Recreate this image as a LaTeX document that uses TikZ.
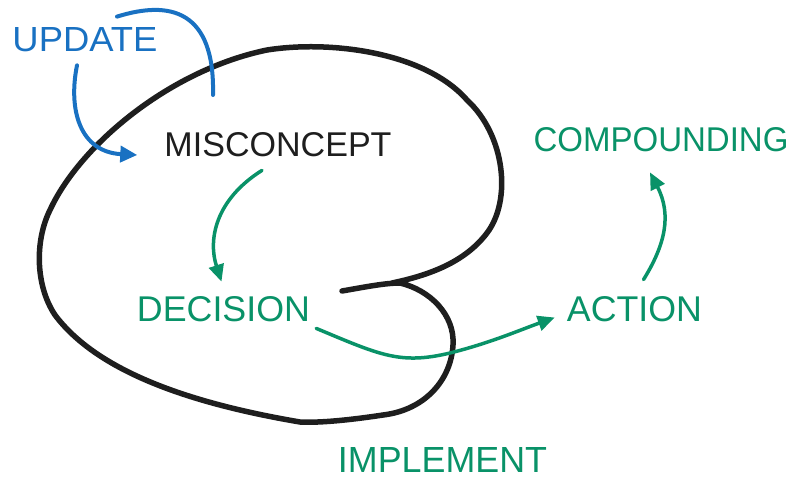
\documentclass[tikz,border=0pt]{standalone}
\usepackage{fontspec}
\setmainfont{Liberation Sans}
\usetikzlibrary{arrows.meta,calc}
\definecolor{inkblue}{HTML}{1971C2}
\definecolor{inkgreen}{HTML}{099268}
\definecolor{inkblack}{HTML}{1E1E1E}
\newcommand{\lbl}[3]{\resizebox{#1pt}{#2pt}{#3}}
\tikzset{
  lab/.style={inner sep=0pt, anchor=center},
  greenarrow/.style={draw=inkgreen, line width=3.5pt, line cap=round, -{Triangle[length=17pt,width=15pt]}},
  bluearrow/.style={draw=inkblue, line width=4pt, line cap=round, -{Triangle[length=17pt,width=16pt]}},
  blueline/.style={draw=inkblue, line width=4pt, line cap=round},
  blob/.style={draw=inkblack, line width=5.5pt, line cap=round, line join=round}
}
\begin{document}
\begin{tikzpicture}[x=1pt,y=-1pt]
\useasboundingbox (0,0) rectangle (800,491);
% blob
\draw[blob] (342,291) .. controls (365,287) and (385,283) .. (400,283)
  .. controls (430,290) and (455,315) .. (453,345)
  .. controls (451,380) and (425,410) .. (383,415)
  .. controls (350,420) and (320,423) .. (300,422)
  .. controls (200,405) and (100,375) .. (55,315)
  .. controls (35,285) and (35,240) .. (50,210)
  .. controls (80,145) and (170,70) .. (267,50)
  .. controls (330,40) and (425,52) .. (467,100)
  .. controls (505,135) and (512,200) .. (487,233)
  .. controls (465,262) and (430,275) .. (392,283);
% labels
\node[lab, text=inkblue] (upd) at (85,40) {\lbl{145}{24}{UPDATE}};
\node[lab, text=inkblack] (mis) at (278,145) {\lbl{227}{24}{MISCONCEPT}};
\node[lab, text=inkgreen] (comp) at (661,140) {\lbl{255}{24}{COMPOUNDING}};
\node[lab, text=inkgreen] (dec) at (223.5,309.5) {\lbl{173}{25}{DECISION}};
\node[lab, text=inkgreen] (act) at (634.5,309.5) {\lbl{135}{25}{ACTION}};
\node[lab, text=inkgreen] (impl) at (442.5,459.5) {\lbl{209}{25}{IMPLEMENT}};
% blue connectors
\coordinate (updend) at (213,95);
\draw[blueline] ([shift={(32,-11)}]upd.north) .. controls (170,0) and (215,10) .. (updend);
\draw[bluearrow] ([shift={(-8,13)}]upd.south) .. controls (68,110) and (80,152) .. ([shift={(-27,10)}]mis.west);
% green connectors
\draw[greenarrow] ([shift={(-16,13)}]mis.south) .. controls (215,200) and (208,240) .. ([shift={(-2,-15)}]dec.north);
\draw[greenarrow] ([shift={(6,6)}]dec.south east) .. controls (380,355) and (400,365) .. (450,353) .. controls (490,343) and (520,330) .. ([shift={(-12,8)}]act.west);
\draw[greenarrow] ([shift={(9,-17)}]act.north) .. controls (665,245) and (672,215) .. ([shift={(-11,20)}]comp.south);
\end{tikzpicture}
\end{document}
